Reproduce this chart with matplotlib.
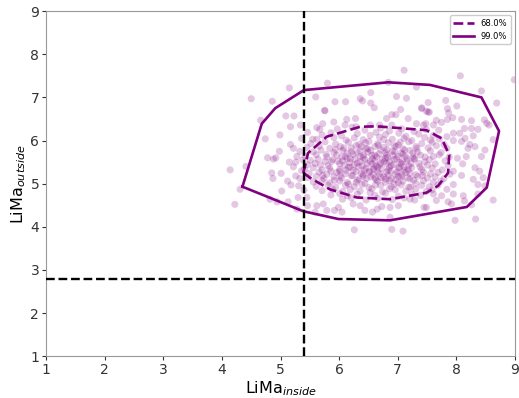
import matplotlib
matplotlib.use("Agg")
import matplotlib.pyplot as plt
import numpy as np

# --- Mock scores: LiMa inside vs LiMa outside -----------------------------
# outer scattered points (upper part of the cloud)
pts_upper = [
    (5.15, 7.22), (4.50, 6.97), (4.86, 6.91), (4.66, 6.47), (5.09, 6.57),
    (5.23, 6.57), (5.17, 6.32), (5.34, 6.36), (4.74, 6.04), (4.99, 6.13),
    (5.17, 5.91), (5.60, 7.01), (5.80, 7.33), (5.76, 6.69), (5.62, 6.30),
    (5.67, 6.26), (5.46, 6.19), (5.55, 6.03), (5.36, 6.05),
    (7.11, 7.63), (6.84, 7.35), (7.32, 7.24), (5.93, 6.90), (6.11, 6.90),
    (6.36, 6.97), (6.40, 6.92), (6.54, 7.11), (6.54, 6.87), (6.98, 7.02),
    (7.15, 6.98), (5.75, 6.70), (6.60, 6.76), (7.05, 6.72), (7.41, 6.76),
    (7.52, 6.66), (5.91, 6.43), (6.13, 6.49), (6.28, 6.51), (6.81, 6.51),
    (6.90, 6.60), (6.97, 6.60), (7.18, 6.51), (5.72, 6.39), (6.10, 6.36),
    (6.29, 6.32), (6.53, 6.36), (6.69, 6.36), (6.90, 6.36), (7.32, 6.39),
    (7.44, 6.36),
]
# outer scattered points (right side)
pts_right = [
    (8.07, 7.50), (8.99, 7.41), (8.43, 7.15), (8.69, 6.87), (7.52, 6.88),
    (7.82, 6.93), (8.01, 6.80), (7.85, 6.74), (7.87, 6.64), (7.94, 6.53),
    (7.85, 6.49), (7.41, 6.74), (7.49, 6.68), (7.54, 6.66), (8.48, 6.48),
    (8.52, 6.40), (8.56, 6.36), (8.26, 6.46), (8.09, 6.49), (7.75, 6.42),
    (7.66, 6.47), (7.61, 6.36), (7.48, 6.39), (8.14, 6.28), (8.26, 6.28),
    (8.37, 6.26), (7.95, 6.17), (8.06, 6.17), (8.15, 6.05), (8.29, 6.11),
    (8.63, 6.02), (7.95, 6.00), (7.84, 6.09), (7.70, 6.24), (8.09, 5.98),
    (8.23, 5.91),
    (7.98, 4.15), (8.33, 4.18), (8.63, 4.62), (8.26, 4.51), (8.14, 4.60),
    (8.12, 4.72), (8.37, 4.76), (8.49, 4.95), (8.37, 4.98), (8.46, 5.14),
    (8.29, 5.10), (8.32, 5.37), (8.40, 5.29), (8.43, 5.63), (8.49, 5.78),
    (8.20, 5.82), (8.32, 5.86), (8.17, 5.63), (8.02, 5.59), (8.11, 5.46),
    (7.95, 5.29), (8.09, 5.19), (7.95, 4.98), (7.84, 4.87), (7.95, 4.76),
    (7.75, 4.72), (7.66, 4.61), (7.49, 4.45), (7.45, 4.45), (7.61, 4.76),
    (7.86, 4.58), (7.92, 4.53),
]
# outer scattered points (left side and bottom)
pts_lower = [
    (4.14, 5.32), (4.41, 5.40), (4.31, 4.87), (4.22, 4.52), (4.78, 5.60),
    (4.88, 5.57), (4.98, 5.75), (4.92, 5.60), (4.85, 5.25), (5.01, 5.24),
    (4.87, 5.12), (5.12, 5.06), (5.15, 5.50), (5.26, 5.50), (5.28, 5.63),
    (5.33, 5.75), (5.26, 5.18), (5.31, 4.95), (5.18, 4.97), (5.02, 4.83),
    (4.82, 4.64), (4.94, 4.58), (5.13, 4.58), (5.30, 4.68), (5.45, 4.68),
    (5.46, 4.49), (5.62, 4.49), (5.59, 4.34), (5.28, 4.41), (5.22, 5.82),
    (5.22, 5.39), (5.36, 5.30), (5.33, 5.12), (5.38, 5.55), (5.40, 4.85),
    (6.26, 3.93), (6.90, 3.94), (7.09, 3.90), (5.73, 4.53), (5.79, 4.38),
    (5.92, 4.38), (5.99, 4.45), (6.05, 4.34), (6.24, 4.53), (6.36, 4.49),
    (6.44, 4.38), (6.57, 4.34), (6.65, 4.41), (6.73, 4.47), (6.87, 4.45),
    (7.01, 4.49), (7.21, 4.64), (6.87, 4.22), (6.53, 4.79),
]
# dense core of the cloud
pts_core = [
    (5.97, 6.27), (6.22, 6.31), (6.44, 6.24), (6.71, 6.29), (6.86, 6.22),
    (7.07, 6.27), (7.28, 6.21), (7.49, 6.25),
    (5.71, 6.13), (5.86, 6.18), (6.04, 6.11), (6.31, 6.16), (6.53, 6.12),
    (6.63, 6.19), (6.79, 6.14), (7.02, 6.17), (7.14, 6.10), (7.36, 6.15),
    (7.61, 6.12),
    (5.62, 6.03), (5.91, 6.07), (6.12, 6.01), (6.26, 6.06), (6.41, 6.02),
    (6.69, 6.08), (6.91, 6.03), (7.11, 6.05), (7.24, 6.00), (7.46, 6.07),
    (7.56, 6.01), (7.71, 6.04),
    (5.52, 5.93), (5.76, 5.97), (5.94, 5.92), (6.16, 5.96), (6.34, 5.91),
    (6.51, 5.98), (6.66, 5.93), (6.84, 5.95), (7.01, 5.90), (7.19, 5.97),
    (7.41, 5.93), (7.59, 5.96), (7.79, 5.91),
    (5.45, 5.84), (5.66, 5.87), (5.84, 5.82), (6.02, 5.86), (6.21, 5.83),
    (6.29, 5.88), (6.46, 5.81), (6.61, 5.86), (6.76, 5.84), (6.94, 5.88),
    (7.09, 5.81), (7.31, 5.86), (7.52, 5.83), (7.66, 5.88), (7.84, 5.82),
    (5.56, 5.74), (5.69, 5.78), (5.91, 5.72), (6.06, 5.77), (6.14, 5.71),
    (6.36, 5.76), (6.49, 5.73), (6.71, 5.78), (6.79, 5.72), (6.91, 5.75),
    (7.06, 5.71), (7.21, 5.77), (7.34, 5.73), (7.56, 5.76), (7.74, 5.72),
    (5.42, 5.64), (5.61, 5.67), (5.79, 5.62), (5.96, 5.66), (6.11, 5.63),
    (6.24, 5.68), (6.41, 5.61), (6.56, 5.66), (6.64, 5.62), (6.81, 5.67),
    (7.01, 5.63), (7.09, 5.68), (7.26, 5.62), (7.39, 5.66), (7.61, 5.63),
    (7.71, 5.67), (7.88, 5.62),
    (5.51, 5.54), (5.64, 5.57), (5.76, 5.52), (5.89, 5.56), (6.06, 5.53),
    (6.19, 5.58), (6.36, 5.51), (6.44, 5.56), (6.61, 5.53), (6.74, 5.57),
    (6.86, 5.52), (6.94, 5.56), (7.16, 5.53), (7.29, 5.57), (7.46, 5.51),
    (7.54, 5.56), (7.81, 5.53),
    (5.46, 5.44), (5.59, 5.47), (5.81, 5.42), (6.01, 5.46), (6.09, 5.43),
    (6.31, 5.48), (6.39, 5.41), (6.56, 5.46), (6.69, 5.43), (6.81, 5.47),
    (6.89, 5.42), (7.06, 5.46), (7.19, 5.41), (7.36, 5.47), (7.51, 5.43),
    (7.64, 5.46), (7.86, 5.42),
    (5.41, 5.34), (5.56, 5.37), (5.71, 5.32), (5.84, 5.36), (6.01, 5.33),
    (6.16, 5.38), (6.24, 5.31), (6.46, 5.36), (6.59, 5.33), (6.66, 5.38),
    (6.84, 5.32), (7.01, 5.36), (7.11, 5.31), (7.24, 5.37), (7.41, 5.33),
    (7.59, 5.36), (7.76, 5.32),
    (5.49, 5.24), (5.66, 5.27), (5.79, 5.22), (5.96, 5.26), (6.11, 5.23),
    (6.29, 5.28), (6.41, 5.21), (6.51, 5.26), (6.69, 5.23), (6.81, 5.27),
    (6.96, 5.22), (7.14, 5.26), (7.31, 5.21), (7.44, 5.27), (7.56, 5.23),
    (7.69, 5.26), (7.89, 5.22),
    (5.46, 5.14), (5.61, 5.17), (5.74, 5.12), (5.91, 5.16), (6.04, 5.13),
    (6.21, 5.18), (6.34, 5.11), (6.54, 5.16), (6.61, 5.13), (6.76, 5.17),
    (6.89, 5.12), (7.06, 5.16), (7.21, 5.11), (7.34, 5.17), (7.51, 5.13),
    (7.64, 5.16), (7.79, 5.12),
    (5.56, 5.04), (5.71, 5.07), (5.84, 5.02), (6.01, 5.06), (6.14, 5.03),
    (6.31, 5.08), (6.44, 5.01), (6.66, 5.06), (6.79, 5.03), (6.86, 5.07),
    (7.01, 5.02), (7.09, 5.06), (7.31, 5.01), (7.44, 5.07), (7.61, 5.03),
    (7.74, 5.06),
    (5.61, 4.94), (5.81, 4.97), (5.94, 4.92), (6.11, 4.96), (6.26, 4.93),
    (6.39, 4.98), (6.51, 4.91), (6.71, 4.96), (6.89, 4.93), (7.06, 4.97),
    (7.19, 4.92), (7.41, 4.96), (7.54, 4.93), (7.69, 4.97),
    (5.71, 4.84), (5.89, 4.87), (6.06, 4.82), (6.19, 4.86), (6.36, 4.83),
    (6.56, 4.88), (6.74, 4.81), (6.96, 4.86), (7.14, 4.83), (7.31, 4.87),
    (7.49, 4.82), (7.59, 4.86),
    (5.86, 4.74), (6.01, 4.77), (6.14, 4.72), (6.31, 4.76), (6.61, 4.73),
    (6.79, 4.78), (7.01, 4.71), (7.24, 4.76), (7.39, 4.73),
    (6.06, 4.64), (6.21, 4.67), (6.46, 4.62), (6.66, 4.66), (6.91, 4.63),
    (7.11, 4.67), (7.29, 4.62),
]
# extra points packed around the centre of the cloud
pts_centre = [
    (6.05, 5.62), (6.18, 5.49), (6.27, 5.57), (6.33, 5.39), (6.42, 5.66),
    (6.48, 5.47), (6.52, 5.29), (6.57, 5.58), (6.63, 5.41), (6.68, 5.69),
    (6.73, 5.35), (6.77, 5.51), (6.83, 5.61), (6.88, 5.29), (6.93, 5.44),
    (6.98, 5.58), (7.03, 5.37), (7.08, 5.51), (7.13, 5.64), (7.18, 5.32),
    (7.23, 5.47), (7.28, 5.58), (6.12, 5.31), (6.23, 5.19), (6.38, 5.24),
    (6.47, 5.12), (6.58, 5.21), (6.72, 5.14), (6.84, 5.19), (6.97, 5.09),
    (7.07, 5.21), (7.17, 5.14), (6.08, 5.83), (6.21, 5.74), (6.38, 5.86),
    (6.54, 5.77), (6.67, 5.89), (6.82, 5.79), (6.97, 5.86), (7.12, 5.78),
    (5.98, 5.52), (5.86, 5.29), (5.92, 5.08), (6.16, 4.99), (6.62, 4.97),
    (6.94, 4.99), (7.27, 5.08), (7.38, 5.39), (7.47, 5.62), (7.33, 5.82),
    (6.45, 5.95), (6.76, 6.02), (7.04, 5.96), (5.78, 5.68), (5.68, 5.43),
    (5.72, 5.19), (6.02, 5.18), (6.29, 5.03), (6.86, 4.88), (7.22, 4.92),
    (6.14, 5.58), (6.26, 5.44), (6.36, 5.63), (6.43, 5.32), (6.53, 5.52),
    (6.61, 5.66), (6.66, 5.27), (6.71, 5.48), (6.79, 5.59), (6.86, 5.38),
    (6.92, 5.66), (6.99, 5.27), (7.04, 5.49), (7.11, 5.38), (7.16, 5.58),
    (7.21, 5.24), (6.31, 5.72), (6.49, 5.81), (6.59, 5.37), (6.95, 5.74),
    (6.19, 5.38), (6.41, 5.17), (6.63, 5.09), (6.79, 5.11), (7.01, 5.17),
    (5.94, 5.79), (5.87, 5.51), (6.01, 5.29), (7.26, 5.71), (7.42, 5.19),
]

# 68 % and 99 % contour polygons
c68_x = [5.39, 5.47, 5.79, 6.36, 6.64, 7.49, 7.75, 7.88, 7.86, 7.69, 7.49,
         6.87, 6.30, 5.84, 5.50, 5.39]
c68_y = [5.25, 5.71, 6.09, 6.32, 6.33, 6.24, 6.05, 5.67, 5.25, 4.95, 4.79,
         4.64, 4.68, 4.87, 5.14, 5.25]
c99_x = [4.35, 4.68, 4.91, 5.40, 6.84, 7.55, 8.43, 8.73, 8.52, 8.18, 6.87,
         5.99, 5.39, 4.35]
c99_y = [4.93, 6.39, 6.75, 7.17, 7.35, 7.29, 7.00, 6.22, 4.91, 4.46, 4.15,
         4.18, 4.36, 4.93]

x_cut = 5.4
y_cut = 2.8

###############################################
# Figure
###############################################
fig = plt.figure(figsize=(5.19, 3.98), dpi=100)
ax = fig.add_axes([0.089, 0.105, 0.903, 0.867])

col = "purple"
for pts in (pts_upper, pts_right, pts_lower, pts_core, pts_centre):
    arr = np.array(pts)
    ax.scatter(arr[:, 0], arr[:, 1], s=26, color=col, alpha=0.22,
               edgecolors="none", zorder=2)

ax.plot(c68_x, c68_y, color=col, lw=1.9, ls="--", label="68.0%", zorder=3)
ax.plot(c99_x, c99_y, color=col, lw=1.9, ls="-", label="99.0%", zorder=3)

ax.axvline(x_cut, color="black", ls="--", lw=1.7, zorder=4)
ax.axhline(y_cut, color="black", ls="--", lw=1.7, zorder=4)

ax.set_xlim(1, 9)
ax.set_ylim(1, 9)
ax.set_xticks(range(1, 10))
ax.set_yticks(range(1, 10))
ax.tick_params(labelsize=10, colors="#333333", length=3, pad=2)
for sp in ax.spines.values():
    sp.set_color("#999999")

ax.set_xlabel(r"LiMa$_{inside}$", fontsize=11.5)
ax.set_ylabel(r"LiMa$_{outside}$", fontsize=11.5, labelpad=2)
ax.xaxis.set_label_coords(0.5, -0.068)

ax.legend(loc="upper right", fontsize=6, handlelength=2.5, framealpha=1)

fig.savefig("out.png", dpi=100)
